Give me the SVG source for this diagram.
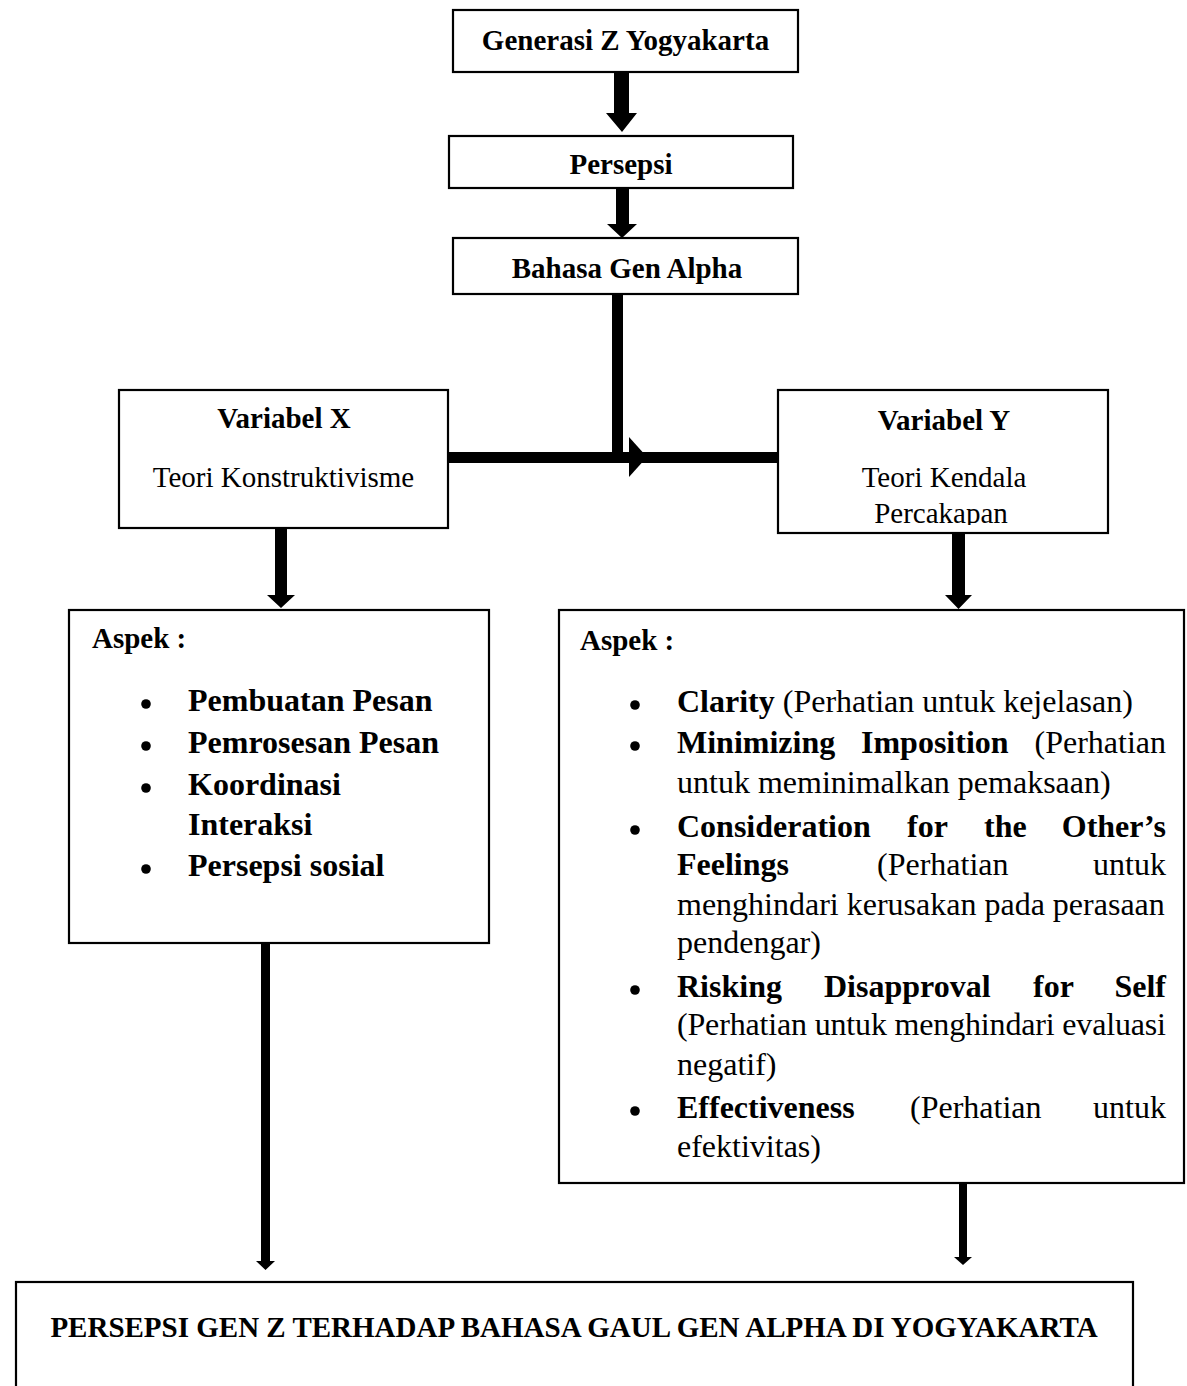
<svg xmlns="http://www.w3.org/2000/svg" width="1187" height="1386" viewBox="0 0 1187 1386">
<style>
.box{fill:#fff;stroke:#000;stroke-width:2.2}
.t{font-family:"Liberation Serif","Times New Roman",serif;font-size:29px;fill:#000}
.b{font-weight:bold}
.c{text-anchor:middle}
.e{text-anchor:end}
.a{font-family:"Liberation Serif","Times New Roman",serif;font-size:32px;fill:#000}
.bul{fill:#000;stroke:none}
.arr{fill:#000;stroke:none}
</style>
<defs>
<clipPath id="clipY"><rect x="779" y="391" width="328" height="134"/></clipPath>
</defs>
<rect width="1187" height="1386" fill="#fff"/>

<g id="connectors">
<polygon class="arr" points="614,72 629,72 629,113 637,113 622,132 606,113 614,113"/>
<polygon class="arr" points="616,188 629,188 629,224 637,224 622,238 607,224 616,224"/>
<rect class="arr" x="612" y="294" width="11" height="169"/>
<rect class="arr" x="448" y="452" width="330" height="11"/>
<polygon class="arr" points="629,437 647,457 629,477"/>
<polygon class="arr" points="275,527 287,527 287,595 295,595 281,608 267,595 275,595"/>
<polygon class="arr" points="952,533 965,533 965,595 972,595 958.5,609 945,595 952,595"/>
<polygon class="arr" points="261,943 270,943 270,1261 275,1261 265.5,1270 256,1261 261,1261"/>
<polygon class="arr" points="959,1183 967,1183 967,1257 972,1257 963,1265 954,1257 959,1257"/>
</g>

<g id="node-genz">
<rect class="box" x="453" y="10" width="345" height="62"/>
<text class="t b c" x="625.5" y="50">Generasi Z Yogyakarta</text>
</g>

<g id="node-persepsi">
<rect class="box" x="449" y="136" width="344" height="52"/>
<text class="t b c" x="621" y="174">Persepsi</text>
</g>

<g id="node-bahasa">
<rect class="box" x="453" y="238" width="345" height="56"/>
<text class="t b c" x="627" y="278">Bahasa Gen Alpha</text>
</g>

<g id="node-varx">
<rect class="box" x="119" y="390" width="329" height="138"/>
<text class="t b c" x="284" y="428">Variabel X</text>
<text class="t c" x="283.5" y="487">Teori Konstruktivisme</text>
</g>

<g id="node-vary">
<rect class="box" x="778" y="390" width="330" height="143"/>
<text class="t b c" x="944" y="430">Variabel Y</text>
<g clip-path="url(#clipY)">
<text class="t c" x="944" y="487">Teori Kendala</text>
<text class="t c" x="941" y="523">Percakapan</text>
</g>
</g>

<g id="node-aspek-x">
<rect class="box" x="69" y="610" width="420" height="333"/>
<text class="t b" x="92" y="648">Aspek :</text>
<circle class="bul" cx="146" cy="704" r="4.8"/>
<text class="a b" x="188" y="711">Pembuatan Pesan</text>
<circle class="bul" cx="146" cy="746" r="4.8"/>
<text class="a b" x="188" y="753">Pemrosesan Pesan</text>
<circle class="bul" cx="146" cy="788" r="4.8"/>
<text class="a b" x="188" y="795">Koordinasi</text>
<text class="a b" x="188" y="835">Interaksi</text>
<circle class="bul" cx="146" cy="869" r="4.8"/>
<text class="a b" x="188" y="876">Persepsi sosial</text>
</g>

<g id="node-aspek-y">
<rect class="box" x="559" y="610" width="625" height="573"/>
<text class="t b" x="580" y="650">Aspek :</text>
<circle class="bul" cx="635" cy="705" r="4.8"/>
<text class="a" x="677" y="712"><tspan font-weight="bold">Clarity</tspan> (Perhatian untuk kejelasan)</text>
<circle class="bul" cx="635" cy="746" r="4.8"/>
<text class="a b" x="677" y="753">Minimizing</text>
<text class="a b" x="861" y="753">Imposition</text>
<text class="a e" x="1166" y="753">(Perhatian</text>
<text class="a" x="677" y="793">untuk meminimalkan pemaksaan)</text>
<circle class="bul" cx="635" cy="830" r="4.8"/>
<text class="a b" x="677" y="837">Consideration</text>
<text class="a b" x="907" y="837">for</text>
<text class="a b" x="984" y="837">the</text>
<text class="a b e" x="1166" y="837">Other’s</text>
<text class="a b" x="677" y="875">Feelings</text>
<text class="a" x="877" y="875">(Perhatian</text>
<text class="a e" x="1166" y="875">untuk</text>
<text class="a" x="677" y="915">menghindari kerusakan pada perasaan</text>
<text class="a" x="677" y="953">pendengar)</text>
<circle class="bul" cx="635" cy="990" r="4.8"/>
<text class="a b" x="677" y="997">Risking</text>
<text class="a b" x="824" y="997">Disapproval</text>
<text class="a b" x="1033" y="997">for</text>
<text class="a b e" x="1166" y="997">Self</text>
<text class="a" x="677" y="1035" textLength="489" lengthAdjust="spacing">(Perhatian untuk menghindari evaluasi</text>
<text class="a" x="677" y="1075">negatif)</text>
<circle class="bul" cx="635" cy="1111" r="4.8"/>
<text class="a b" x="677" y="1118">Effectiveness</text>
<text class="a" x="910" y="1118">(Perhatian</text>
<text class="a e" x="1166" y="1118">untuk</text>
<text class="a" x="677" y="1157">efektivitas)</text>
</g>

<g id="node-result">
<rect class="box" x="16" y="1282" width="1117" height="130"/>
<text class="t b c" x="574" y="1337">PERSEPSI GEN Z TERHADAP BAHASA GAUL GEN ALPHA DI YOGYAKARTA</text>
</g>
</svg>
